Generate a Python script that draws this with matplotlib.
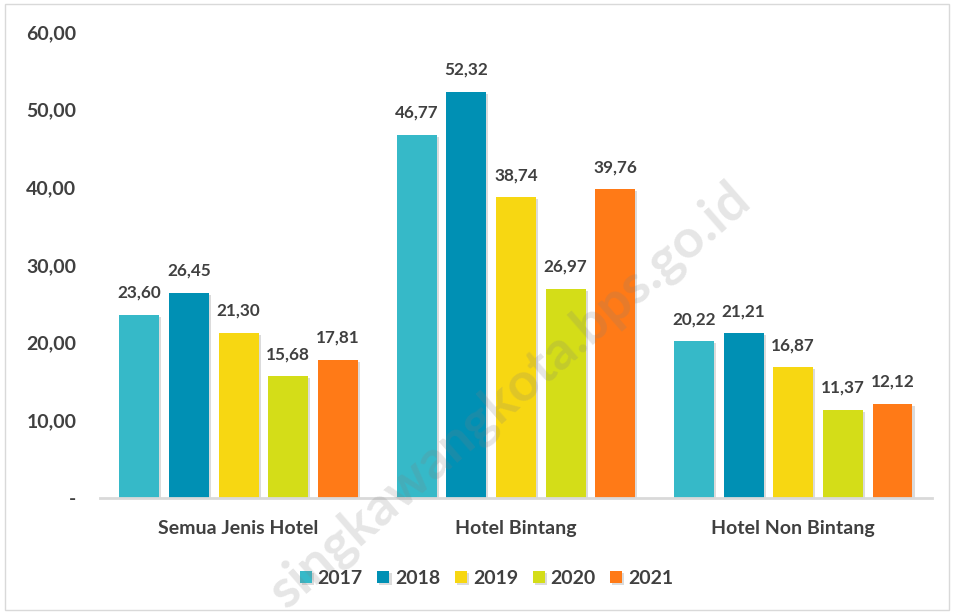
import numpy as np
import matplotlib.pyplot as plt
from matplotlib import patches, patheffects

# categories and series
categories = ["Semua Jenis Hotel", "Hotel Bintang", "Hotel Non Bintang"]
years = ["2017", "2018", "2019", "2020", "2021"]
v2017 = [23.60, 46.77, 20.22]
v2018 = [26.45, 52.32, 21.21]
v2019 = [21.30, 38.74, 16.87]
v2020 = [15.68, 26.97, 11.37]
v2021 = [17.81, 39.76, 12.12]
series = [v2017, v2018, v2019, v2020, v2021]
yticks = [0, 10, 20, 30, 40, 50, 60]

colors = ["#36B9C8", "#0090B4", "#F7D712", "#D4DD18", "#FF7A17"]
text_color = "#404040"
fsize = 14
plt.rcParams["font.family"] = ["Lato", "DejaVu Sans"]
plt.rcParams["font.weight"] = "bold"

fig = plt.figure(figsize=(9.54, 6.12), dpi=100)
ax = fig.add_axes([0.1048, 0.1863, 0.872, 0.7614])

x = np.arange(len(categories))
width = 0.144
step = 0.179
shadow = [patheffects.SimplePatchShadow(offset=(1.5, -1.5), shadow_rgbFace="#999999", alpha=0.35),
          patheffects.Normal()]

for i, (vals, yr) in enumerate(zip(series, years)):
    pos = x + (i - 2) * step
    bars = ax.bar(pos, vals, width=width, color=colors[i], label=yr, zorder=2)
    for b in bars:
        b.set_path_effects(shadow)
    for px, v in zip(pos, vals):
        ax.annotate(f"{v:.2f}".replace(".", ","), (px, v), xytext=(0, 10),
                    textcoords="offset points", ha="center", va="bottom",
                    fontsize=12.3, fontweight="bold", color=text_color)

ax.set_xlim(-0.5, 2.5)
ax.set_ylim(0, 60)
ax.set_yticks(yticks)
ax.set_yticklabels(["-" if t == 0 else f"{t:.2f}".replace(".", ",") for t in yticks])
ax.set_xticks(x)
ax.set_xticklabels(categories)
ax.tick_params(axis="both", length=0, labelsize=fsize, labelcolor=text_color)
ax.tick_params(axis="y", pad=17)
ax.tick_params(axis="x", pad=16)
for lab in ax.get_xticklabels() + ax.get_yticklabels():
    lab.set_fontweight("bold")

for s in ["top", "right", "left"]:
    ax.spines[s].set_visible(False)
ax.spines["bottom"].set_color("#D9D9D9")
ax.spines["bottom"].set_linewidth(2)

leg = fig.legend(loc="center", bbox_to_anchor=(0.51, 0.055), ncol=5, frameon=False,
                 handlelength=0.62, handleheight=0.62, handletextpad=0.3,
                 columnspacing=0.75, prop={"size": fsize, "weight": "bold"})
for t in leg.get_texts():
    t.set_color(text_color)

# watermark (runs off the bottom edge, as in the source image)
fig.text(0.779, 0.685, "singkawangkota.bps.go.id", rotation=41, rotation_mode="anchor",
         ha="right", va="center", fontsize=39, fontweight="bold", color="#808080",
         alpha=0.2, zorder=10)

# outer border
fig.patches.append(patches.Rectangle((0.005, 0.004), 0.99, 0.99, transform=fig.transFigure,
                                     fill=False, edgecolor="#D9D9D9", linewidth=1))

fig.savefig("out.png", dpi=100)
